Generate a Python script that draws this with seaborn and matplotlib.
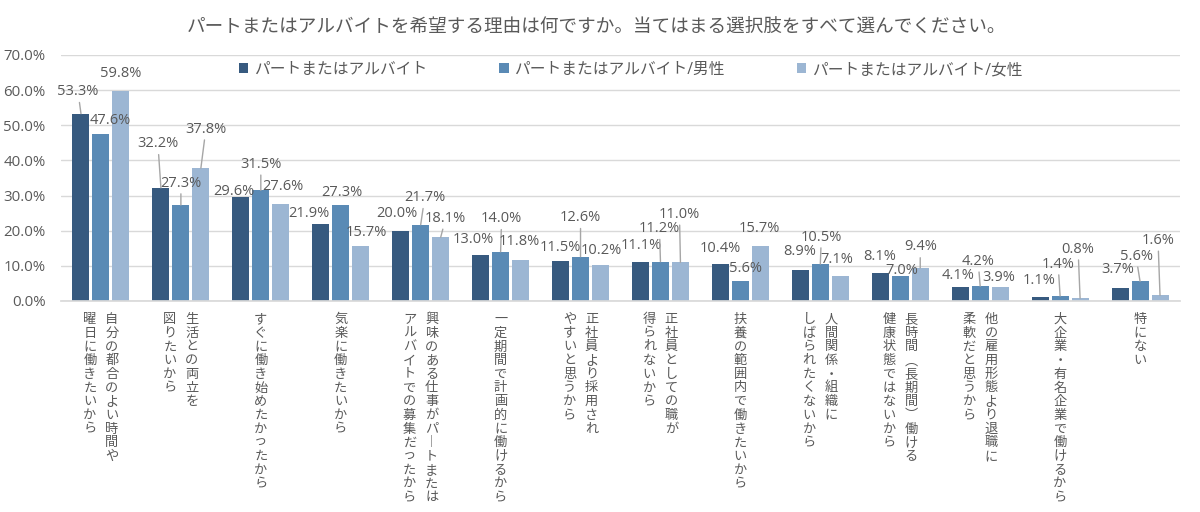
import numpy as np
import pandas as pd
import matplotlib
matplotlib.use("Agg")
import matplotlib.pyplot as plt
import seaborn as sns

# ---- data ----
categories = [
    "自分の都合のよい時間や\n曜日に働きたいから",
    "生活との両立を\n図りたいから",
    "すぐに働き始めたかったから",
    "気楽に働きたいから",
    "興味のある仕事がパートまたは\nアルバイトでの募集だったから",
    "一定期間で計画的に働けるから",
    "正社員より採用され\nやすいと思うから",
    "正社員としての職が\n得られないから",
    "扶養の範囲内で働きたいから",
    "人間関係・組織に\nしばられたくないから",
    "長時間（長期間）働ける\n健康状態ではないから",
    "他の雇用形態より退職に\n柔軟だと思うから",
    "大企業・有名企業で働けるから",
    "特にない",
]
series_names = ["パートまたはアルバイト", "パートまたはアルバイト/男性", "パートまたはアルバイト/女性"]
all_values = [53.3, 32.2, 29.6, 21.9, 20.0, 13.0, 11.5, 11.1, 10.4, 8.9, 8.1, 4.1, 1.1, 3.7]
male_values = [47.6, 27.3, 31.5, 27.3, 21.7, 14.0, 12.6, 11.2, 5.6, 10.5, 7.0, 4.2, 1.4, 5.6]
female_values = [59.8, 37.8, 27.6, 15.7, 18.1, 11.8, 10.2, 11.0, 15.7, 7.1, 9.4, 3.9, 0.8, 1.6]
title = "パートまたはアルバイトを希望する理由は何ですか。当てはまる選択肢をすべて選んでください。"

colors = ["#375a7f", "#5a8ab5", "#9cb6d3"]

# label offsets (pixels) from the top of each bar: (dx, up)
label_offsets = [
    [(-3, 22), (-3, 44), (-7, 5), (-12, 11), (-4, 17), (-7, 16), (0, 13),
     (1, 16), (0, 16), (-1, 18), (-1, 16), (-2, 11), (-1, 17), (-2, 18)],
    [(9, 13), (0, 22), (0, 26), (1, 13), (4, 27), (1, 33), (0, 39),
     (-1, 33), (5, 13), (1, 27), (2, 6), (-2, 25), (-2, 32), (-4, 25)],
    [(0, 17), (5, 39), (2, 18), (6, 13), (5, 19), (-1, 18), (1, 15),
     (-1, 48), (-1, 17), (-3, 17), (0, 21), (-1, 10), (-2, 49), (-2, 55)],
]

df = pd.DataFrame({
    "category": categories * 3,
    "series": [s for s in series_names for _ in categories],
    "value": all_values + male_values + female_values,
})

sns.set_theme(style="white")
plt.rcParams["font.family"] = ["Open Sans", "Noto Sans CJK JP", "DejaVu Sans"]
text_color = "#595959"

fig = plt.figure(figsize=(12, 5.12), dpi=100)
ax = fig.add_axes([61 / 1200, 1 - 301 / 512, 1119 / 1200, 246 / 512])

sns.barplot(data=df, x="category", y="value", hue="series", hue_order=series_names,
            palette=colors, width=0.75, gap=0.15, ax=ax, edgecolor="#ffffff",
            linewidth=0, saturation=1)

ax.set_ylim(0, 70)
ax.set_xlim(-0.5, len(categories) - 0.5)
ax.set_yticks(np.arange(0, 71, 10))
ax.set_yticklabels([f"{v:.1f}%" for v in np.arange(0, 71, 10)], fontsize=10.8, color=text_color)
ax.tick_params(axis="y", length=0, pad=11)
ax.set_xticks([])
ax.set_xlabel("")
ax.set_ylabel("")
ax.yaxis.grid(True, color="#d9d9d9", linewidth=1)
ax.set_axisbelow(True)
for side in ["left", "right", "top"]:
    ax.spines[side].set_visible(False)
ax.spines["bottom"].set_color("#d9d9d9")

# data labels
for container, offsets in zip(ax.containers, label_offsets):
    for bar, (dx, up) in zip(container, offsets):
        x = bar.get_x() + bar.get_width() / 2
        y = bar.get_height()
        arrow = dict(arrowstyle="-", color="#a6a6a6", lw=1, shrinkA=0, shrinkB=0) if up >= 19 else None
        ax.annotate(f"{y:.1f}%", xy=(x, y), xytext=(dx, up), textcoords="offset pixels",
                    ha="center", va="center", fontsize=10.5, color=text_color,
                    arrowprops=arrow, annotation_clip=False)

# vertical category labels
vert_map = {"ー": "︱", "（": "︵", "）": "︶"}
for i, cat in enumerate(categories):
    lines = cat.split("\n")
    n = len(lines)
    for j, line in enumerate(lines):
        col = "\n".join(vert_map.get(ch, ch) for ch in line)
        dx = ((n - 1) / 2 - j) * 22
        ax.annotate(col, xy=(i, 0), xycoords=ax.get_xaxis_transform(),
                    xytext=(dx, -12), textcoords="offset pixels",
                    ha="center", va="top", fontsize=9.5, linespacing=1.07,
                    color=text_color, family=["Noto Sans CJK JP", "DejaVu Sans"],
                    annotation_clip=False)

leg = ax.legend(loc="center", bbox_to_anchor=(0.509, 0.939), ncol=3, frameon=False,
                fontsize=11.3, handlelength=0.6, handleheight=0.6, handletextpad=0.35,
                columnspacing=4.6, labelcolor=text_color)
for h in leg.legend_handles:
    h.set_linewidth(0)

fig.text(0.497, 1 - 28 / 512, title, ha="center", va="center", fontsize=13.4, color=text_color,
         family=["Noto Sans CJK JP", "DejaVu Sans"])

fig.savefig("out.png", dpi=100, facecolor="white")
